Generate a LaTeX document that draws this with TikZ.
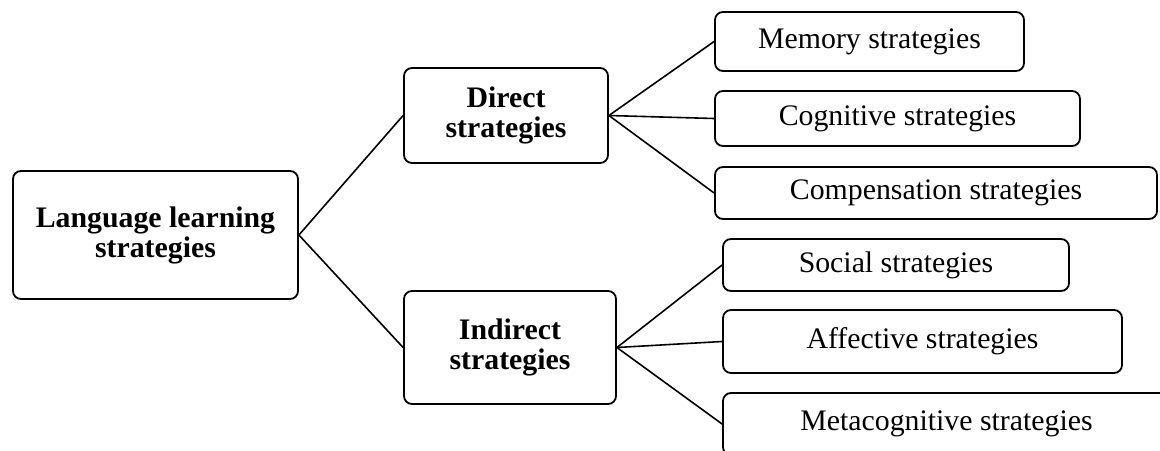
\documentclass[tikz,border=0pt]{standalone}
\usepackage{fontspec}
\setmainfont{Liberation Serif}
\usepackage{tikz}

\tikzset{
  box/.style={draw, line width=0.9pt, rounded corners=4pt, inner sep=0pt,
    align=center, font=\fontsize{14.9}{15}\selectfont},
  headbox/.style={box, font=\fontsize{14.9}{15}\selectfont\bfseries},
  link/.style={line width=0.8pt}
}

\begin{document}
\begin{tikzpicture}[x=0.5pt,y=-0.5pt]
\useasboundingbox (0,0) rectangle (1160,450);

\node[headbox, minimum width=142.5pt, minimum height=64pt] (lls) at (155.5,235) {Language learning\\strategies};

\node[headbox, minimum width=102pt, minimum height=47.5pt] (direct) at (506,115.5) {Direct\\strategies};
\node[headbox, minimum width=106pt, minimum height=56.5pt] (indirect) at (510,347.5) {Indirect\\strategies};

% direct ones
\node[box, minimum width=154.5pt, minimum height=29.5pt] (memory) at (869.5,41.5) {Memory strategies};
\node[box, minimum width=182.5pt, minimum height=27.5pt] (cognitive) at (897.5,118.5) {Cognitive strategies};
\node[box, minimum width=221pt, minimum height=26pt] (compensation) at (936,193) {Compensation strategies};

% indirect ones
\node[box, minimum width=173pt, minimum height=26pt] (social) at (896,265) {Social strategies};
\node[box, minimum width=199.5pt, minimum height=31.5pt] (affective) at (922.5,341.5) {Affective strategies};
\node[box, minimum width=223.5pt, minimum height=31pt] (metacognitive) at (946.5,424) {Metacognitive strategies};

\draw[link] (direct.west) -- (lls.east) -- (indirect.west);

\foreach \n in {memory,cognitive,compensation}
{
\draw[link] (direct.east) -- (\n.west);
}
\foreach \n in {social,affective,metacognitive}
{
\draw[link] (indirect.east) -- (\n.west);
}

\end{tikzpicture}
\end{document}
